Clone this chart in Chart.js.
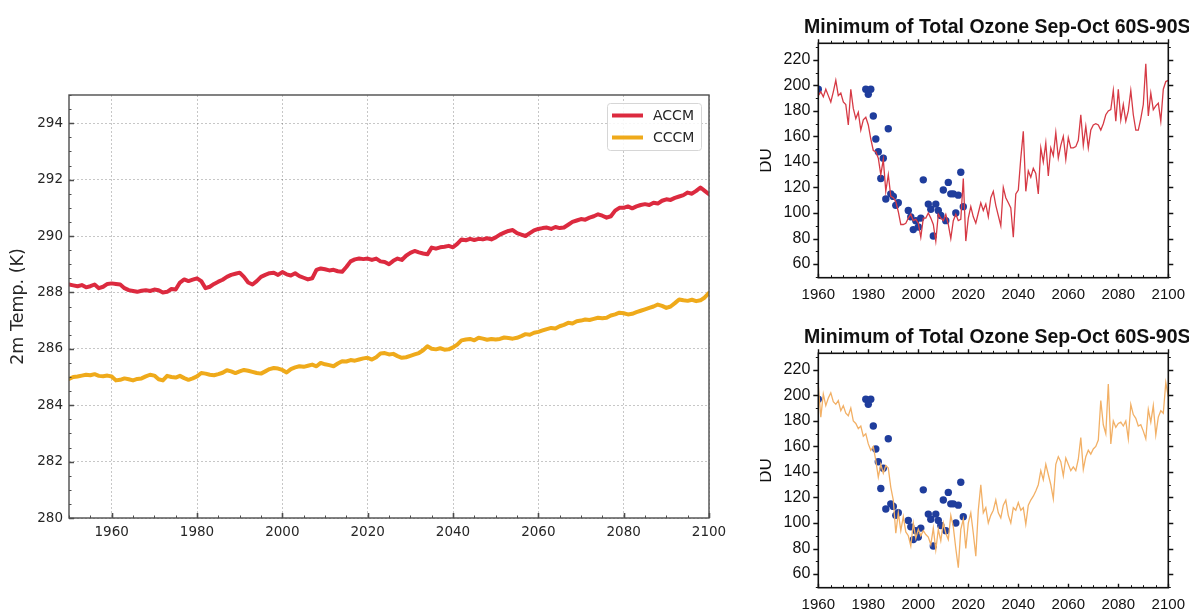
<!DOCTYPE html>
<html>
<head>
<meta charset="utf-8">
<script src="https://cdn.jsdelivr.net/npm/chart.js@4.4.1/dist/chart.umd.min.js"></script>
<style>
  html, body { margin: 0; padding: 0; background: #fff; }
  body { position: relative; width: 1189px; height: 610px; overflow: hidden; }
  canvas { position: absolute; }
  #tempChart { left: 0; top: 0; }
  #ozoneAccm { left: 760px; top: 0; }
  #ozoneCccm { left: 760px; top: 310px; }
</style>
</head>
<body>
<canvas id="tempChart" width="760" height="610"></canvas>
<canvas id="ozoneAccm" width="440" height="310"></canvas>
<canvas id="ozoneCccm" width="440" height="310"></canvas>
<script>
// ---- Global mean 2 m temperature (K), annual, 1950-2100 ----
const TEMP_YEARS = [];
for (let y = 1950; y <= 2100; y++) TEMP_YEARS.push(y);

const ACCM_T2M = [
  288.28, 288.25, 288.22, 288.26, 288.18, 288.22, 288.28, 288.15, 288.20, 288.30,
  288.32, 288.30, 288.28, 288.15, 288.08, 288.05, 288.02, 288.06, 288.08, 288.05,
  288.10, 288.08, 288.00, 288.02, 288.12, 288.10, 288.35, 288.46, 288.40, 288.45,
  288.50, 288.40, 288.15, 288.20, 288.30, 288.38, 288.45, 288.55, 288.62, 288.66,
  288.70, 288.55, 288.35, 288.28, 288.40, 288.55, 288.62, 288.68, 288.70, 288.62,
  288.72, 288.64, 288.60, 288.68, 288.58, 288.52, 288.46, 288.50, 288.80, 288.85,
  288.82, 288.78, 288.80, 288.75, 288.73, 288.90, 289.10, 289.17, 289.20, 289.18,
  289.20, 289.15, 289.20, 289.10, 289.08, 289.00, 289.12, 289.20, 289.15, 289.30,
  289.40, 289.47, 289.42, 289.38, 289.35, 289.59, 289.55, 289.60, 289.62, 289.65,
  289.60, 289.72, 289.88, 289.85, 289.90, 289.86, 289.90, 289.88, 289.92, 289.88,
  289.95, 290.05, 290.12, 290.18, 290.21, 290.10, 290.05, 290.00, 290.10, 290.20,
  290.25, 290.28, 290.30, 290.25, 290.32, 290.28, 290.30, 290.40, 290.50, 290.55,
  290.60, 290.58, 290.65, 290.70, 290.77, 290.72, 290.65, 290.70, 290.90, 291.00,
  291.00, 291.05, 290.98, 291.05, 291.10, 291.13, 291.10, 291.18, 291.15, 291.25,
  291.30, 291.28, 291.35, 291.40, 291.45, 291.54, 291.50, 291.60, 291.72, 291.60,
  291.48
];

const CCCM_T2M = [
  284.93, 285.00, 285.02, 285.05, 285.08, 285.06, 285.10, 285.04, 285.03, 285.05,
  285.02, 284.88, 284.90, 284.95, 284.92, 284.88, 284.93, 284.95, 285.02, 285.08,
  285.05, 284.92, 284.88, 285.04, 285.00, 284.98, 285.04, 284.96, 284.90, 284.95,
  285.02, 285.14, 285.12, 285.08, 285.06, 285.10, 285.15, 285.24, 285.20, 285.14,
  285.20, 285.25, 285.22, 285.18, 285.14, 285.12, 285.20, 285.28, 285.32, 285.30,
  285.25, 285.16, 285.28, 285.34, 285.38, 285.36, 285.40, 285.44, 285.38, 285.50,
  285.45, 285.42, 285.38, 285.48, 285.56, 285.55, 285.60, 285.58, 285.62, 285.66,
  285.68, 285.62, 285.70, 285.83, 285.85, 285.80, 285.82, 285.74, 285.68, 285.70,
  285.75, 285.80, 285.85, 285.95, 286.09, 286.00, 285.98, 286.02, 285.97, 285.98,
  286.05, 286.15, 286.30, 286.33, 286.35, 286.30, 286.39, 286.36, 286.32, 286.35,
  286.33, 286.35, 286.40, 286.38, 286.36, 286.39, 286.45, 286.52, 286.50, 286.57,
  286.60, 286.65, 286.70, 286.74, 286.72, 286.80, 286.85, 286.92, 286.90, 286.98,
  287.00, 287.04, 287.02, 287.06, 287.10, 287.08, 287.10, 287.18, 287.22, 287.28,
  287.26, 287.22, 287.24, 287.30, 287.35, 287.40, 287.45, 287.50, 287.57, 287.52,
  287.45, 287.50, 287.62, 287.75, 287.72, 287.70, 287.74, 287.69, 287.72, 287.82,
  287.98
];

const TEMP_X_TICKS = [1960, 1980, 2000, 2020, 2040, 2060, 2080, 2100];
const TEMP_Y_TICKS = [280, 282, 284, 286, 288, 290, 292, 294];

// ---- Minimum of total ozone, Sep-Oct, 60S-90S (DU), annual, 1960-2100 ----
const OZONE_YEARS = [];
for (let y = 1960; y <= 2100; y++) OZONE_YEARS.push(y);

const ACCM_O3MIN = [
  192, 195, 191, 197, 192, 187, 195, 204, 192, 194,
  187, 185, 169, 197, 182, 174, 179, 165, 173, 175,
  169, 158, 149, 148, 143, 130, 142, 117, 130, 113,
  112, 109, 101,  91,  91,  92,  96,  99,  94,  95,
   92,  81,  96,  96, 100,  96,  91,  78,  99,  96,
   94,  99,  91,  80,  94,  99,  94,  95, 127,  78,
   96, 105,  97,  92, 100, 108, 102, 107,  97, 112,
  117, 106,  98,  90, 120, 112, 108, 104,  81, 115,
  118, 143, 164, 117, 133, 128, 135, 131, 115, 151,
  140, 155, 129, 151, 145, 163, 143, 153, 160, 142,
  159, 151, 151, 152, 157, 177, 153, 168, 151, 165,
  169, 170, 169, 165, 170, 177, 180, 181, 196, 172,
  197, 173, 185, 172, 180, 196, 177, 165, 165, 174,
  185, 217, 176, 194, 181, 184, 186, 172, 197, 203,
  204
];

const CCCM_O3MIN = [
  208, 183, 201, 192, 198, 202, 195, 193, 196, 188,
  192, 186, 184, 190, 180, 178, 174, 176, 168, 170,
  162, 157, 160, 149, 136, 146, 139, 145, 143, 128,
  118,  92, 108,  94, 105,  93,  90,  82, 100,  88,
   95,  90,  94,  91,  89,  83,  96,  79,  95,  86,
  100,  92,  87, 106,  97,  80,  65,  95, 103,  80,
  100, 108,  92,  74, 110, 130, 108, 112, 100, 106,
  110, 118, 108, 104, 114, 118, 106, 100, 112, 110,
  116, 110, 112,  99, 114, 118, 121, 125, 130, 141,
  134, 146, 138, 130, 119, 146, 152, 148, 137, 151,
  146, 141, 144, 141, 150, 167, 142, 152, 157, 154,
  158, 160, 165, 196, 177, 170, 209, 162, 180, 175,
  178, 179, 176, 180, 166, 193, 185, 182, 176, 177,
  172, 166, 189, 179, 192, 169, 183, 188, 186, 210,
  199
];

// Observed minima (blue dots)
const OBS_YEARS = [
  1960, 1979, 1980, 1981, 1982, 1983, 1984, 1985, 1986, 1987, 1988, 1989, 1990, 1991, 1992,
  1996, 1997, 1998, 1999, 2000, 2001, 2002,
  2004, 2005, 2006, 2007, 2008, 2009, 2010, 2011, 2012, 2013, 2014, 2015, 2016, 2017, 2018
];
const OBS_O3MIN = [
  197, 197, 193, 197, 176, 158, 148, 127, 143, 111, 166, 115, 113, 106, 108,
  102, 97, 87, 94, 89, 96, 126,
  107, 103, 82, 107, 102, 98, 118, 94, 124, 115, 115, 100, 114, 132, 105
];

const OZONE_X_TICKS = [1960, 1980, 2000, 2020, 2040, 2060, 2080, 2100];
const OZONE_Y_TICKS = [60, 80, 100, 120, 140, 160, 180, 200, 220];

const OZONE_TITLE = 'Minimum of Total Ozone Sep-Oct 60S-90S';

// ---- helpers ----
const toPoints = (xs, ys) => xs.map((x, i) => ({ x, y: ys[i] }));
const fixedTicks = list => scale => { scale.ticks = list.map(v => ({ value: v })); };

// Frame (all four spines) plus major/minor tick marks
const axisFrame = {
  id: 'axisFrame',
  afterDraw(chart, args, o) {
    const { ctx, chartArea: a, scales } = chart;
    ctx.save();
    ctx.strokeStyle = o.color;
    (o.marks || []).forEach(m => {
      const sc = scales[m.axis];
      ctx.lineWidth = m.width || o.width;
      const eps = m.step * 1e-6;
      let start = Math.ceil((sc.min - eps) / m.step) * m.step;
      ctx.beginPath();
      for (let v = start; v <= sc.max + eps; v += m.step) {
        const p = Math.round(sc.getPixelForValue(v)) + 0.5;
        m.sides.forEach(side => {
          const s = m.dir === 'in' ? 1 : -1;
          if (side === 'bottom') { ctx.moveTo(p, a.bottom); ctx.lineTo(p, a.bottom - s * m.len); }
          if (side === 'top') { ctx.moveTo(p, a.top); ctx.lineTo(p, a.top + s * m.len); }
          if (side === 'left') { ctx.moveTo(a.left, p); ctx.lineTo(a.left + s * m.len, p); }
          if (side === 'right') { ctx.moveTo(a.right, p); ctx.lineTo(a.right - s * m.len, p); }
        });
      }
      ctx.stroke();
    });
    ctx.lineWidth = o.width;
    ctx.strokeRect(a.left, a.top, a.right - a.left, a.bottom - a.top);
    ctx.restore();
  }
};

// Legend drawn inside the plot area, top-right corner
const insetLegend = {
  id: 'insetLegend',
  afterDraw(chart, args, o) {
    if (!o.display) return;
    const { ctx, chartArea: a } = chart;
    const items = chart.data.datasets;
    const x0 = a.right - o.inset - o.boxWidth;
    const y0 = a.top + o.inset;
    const h = o.rowHeight * items.length + o.padY * 2;
    ctx.save();
    ctx.beginPath();
    ctx.roundRect(x0 + 0.5, y0 + 0.5, o.boxWidth, h, 3);
    ctx.fillStyle = 'rgba(255,255,255,0.85)';
    ctx.fill();
    ctx.strokeStyle = '#d6d6d6';
    ctx.lineWidth = 1;
    ctx.stroke();
    ctx.font = o.font;
    ctx.textBaseline = 'middle';
    ctx.fillStyle = o.color;
    items.forEach((d, i) => {
      const cy = y0 + o.padY + o.rowHeight * (i + 0.5);
      ctx.beginPath();
      ctx.strokeStyle = d.borderColor;
      ctx.lineWidth = d.borderWidth;
      ctx.moveTo(x0 + o.padX, cy);
      ctx.lineTo(x0 + o.padX + o.lineLength, cy);
      ctx.stroke();
      ctx.fillText(d.label, x0 + o.padX + o.lineLength + o.gap, cy + 1);
    });
    ctx.restore();
  }
};

// Panel title centred over the plot area
const panelTitle = {
  id: 'panelTitle',
  afterDraw(chart, args, o) {
    if (!o.text) return;
    const { ctx, chartArea: a } = chart;
    ctx.save();
    ctx.font = o.font;
    ctx.fillStyle = o.color;
    ctx.textAlign = 'center';
    ctx.textBaseline = 'alphabetic';
    ctx.fillText(o.text, (a.left + a.right) / 2 + o.dx, o.y);
    ctx.restore();
  }
};

Chart.defaults.animation = false;

// ---- left panel: 2 m temperature ----
const LEFT_FONT = "'DejaVu Sans', sans-serif";
new Chart(document.getElementById('tempChart'), {
  type: 'line',
  data: {
    datasets: [
      {
        label: 'ACCM',
        data: toPoints(TEMP_YEARS, ACCM_T2M),
        borderColor: '#dc2a3f',
        borderWidth: 4,
        pointRadius: 0,
        borderJoinStyle: 'round',
        borderCapStyle: 'round',
        tension: 0
      },
      {
        label: 'CCCM',
        data: toPoints(TEMP_YEARS, CCCM_T2M),
        borderColor: '#efaa1b',
        borderWidth: 4,
        pointRadius: 0,
        borderJoinStyle: 'round',
        borderCapStyle: 'round',
        tension: 0
      }
    ]
  },
  options: {
    responsive: false,
    devicePixelRatio: 1,
    events: [],
    layout: { padding: { left: 0, right: 51, top: 95, bottom: 0 } },
    plugins: {
      legend: { display: false },
      tooltip: { enabled: false },
      axisFrame: {
        color: '#4d4d4d', width: 1.4,
        marks: [
          { axis: 'x', step: 20, len: 5, sides: ['bottom'], dir: 'in', width: 1.6 },
          { axis: 'x', step: 5, len: 2.5, sides: ['bottom'], dir: 'in', width: 1 },
          { axis: 'y', step: 2, len: 5, sides: ['left'], dir: 'in', width: 1.6 },
          { axis: 'y', step: 0.5, len: 2.5, sides: ['left'], dir: 'in', width: 1 }
        ]
      },
      insetLegend: {
        display: true, inset: 8, boxWidth: 94, rowHeight: 22, padY: 1.5, padX: 5,
        lineLength: 31, gap: 10, font: '14px ' + LEFT_FONT, color: '#262626'
      }
    },
    scales: {
      x: {
        type: 'linear', min: 1950, max: 2100,
        afterBuildTicks: fixedTicks(TEMP_X_TICKS),
        afterFit: s => { s.height = 92; },
        grid: { color: 'rgba(0,0,0,0.22)', lineWidth: 1, drawTicks: false },
        border: { display: false, dash: [2, 2] },
        ticks: {
          padding: 6, color: '#262626', maxRotation: 0,
          font: { family: LEFT_FONT, size: 13.5 },
          callback: v => String(v)
        }
      },
      y: {
        type: 'linear', min: 280, max: 295,
        afterBuildTicks: fixedTicks(TEMP_Y_TICKS),
        afterFit: s => { s.width = 69; },
        grid: { color: 'rgba(0,0,0,0.22)', lineWidth: 1, drawTicks: false },
        border: { display: false, dash: [2, 2] },
        ticks: {
          padding: 6, color: '#262626',
          font: { family: LEFT_FONT, size: 13.5 },
          callback: v => String(v)
        },
        title: {
          display: true, text: '2m Temp. (K)', color: '#262626',
          font: { family: LEFT_FONT, size: 17.5, lineHeight: 1.2 },
          padding: { top: 7.5, bottom: 0 }
        }
      }
    }
  },
  plugins: [axisFrame, insetLegend]
});

// ---- right panels: ozone minima ----
const RIGHT_FONT = "'Liberation Sans', Arial, sans-serif";

function ozonePanel(canvasId, modelLabel, values, color) {
  return new Chart(document.getElementById(canvasId), {
    type: 'line',
    data: {
      datasets: [
        {
          label: modelLabel,
          data: toPoints(OZONE_YEARS, values),
          borderColor: color,
          borderWidth: 1.3,
          pointRadius: 0,
          tension: 0,
          order: 0,
          clip: 1
        },
        {
          type: 'scatter',
          label: 'Observed',
          data: toPoints(OBS_YEARS, OBS_O3MIN),
          backgroundColor: '#1f3d9c',
          borderWidth: 0,
          pointRadius: 3.7,
          showLine: false,
          order: 1,
          clip: 0
        }
      ]
    },
    options: {
      responsive: false,
      devicePixelRatio: 1,
      events: [],
      layout: { padding: { left: 0, right: 31.7, top: 43.3, bottom: 0 } },
      plugins: {
        legend: { display: false },
        tooltip: { enabled: false },
        panelTitle: { text: OZONE_TITLE, font: 'bold 19.5px ' + RIGHT_FONT, color: '#111', y: 33, dx: 4 },
        axisFrame: {
          color: '#111', width: 1.6,
          marks: [
            { axis: 'x', step: 20, len: 4, sides: ['top'], dir: 'out', width: 1.4 },
            { axis: 'x', step: 20, len: 4, sides: ['bottom'], dir: 'in', width: 1.4 },
            { axis: 'x', step: 5, len: 2.5, sides: ['top'], dir: 'out', width: 1 },
            { axis: 'x', step: 5, len: 2.5, sides: ['bottom'], dir: 'in', width: 1 },
            { axis: 'y', step: 20, len: 5, sides: ['left', 'right'], dir: 'out', width: 1.4 },
            { axis: 'y', step: 10, len: 2.5, sides: ['left', 'right'], dir: 'out', width: 1 }
          ]
        }
      },
      scales: {
        x: {
          type: 'linear', min: 1960, max: 2100,
          afterBuildTicks: fixedTicks(OZONE_X_TICKS),
          afterFit: s => { s.height = 32.3; },
          grid: { display: false, drawTicks: false },
          border: { display: false },
          ticks: {
            padding: 8, color: '#111', maxRotation: 0, autoSkip: false,
            font: { family: RIGHT_FONT, size: 15 },
            callback: v => String(v)
          }
        },
        y: {
          type: 'linear', min: 49.3, max: 233,
          afterBuildTicks: fixedTicks(OZONE_Y_TICKS),
          afterFit: s => { s.width = 58.3; },
          grid: { display: false, drawTicks: false },
          border: { display: false },
          ticks: {
            padding: 8, color: '#111',
            font: { family: RIGHT_FONT, size: 16 },
            callback: v => String(v)
          },
          title: {
            display: true, text: 'DU', color: '#111',
            font: { family: RIGHT_FONT, size: 17, lineHeight: 0.75 },
            padding: { top: 0, bottom: 0 }
          }
        }
      }
    },
    plugins: [axisFrame, panelTitle]
  });
}

ozonePanel('ozoneAccm', 'ACCM', ACCM_O3MIN, '#d63a45');
ozonePanel('ozoneCccm', 'CCCM', CCCM_O3MIN, '#f2b066');
</script>
</body>
</html>
